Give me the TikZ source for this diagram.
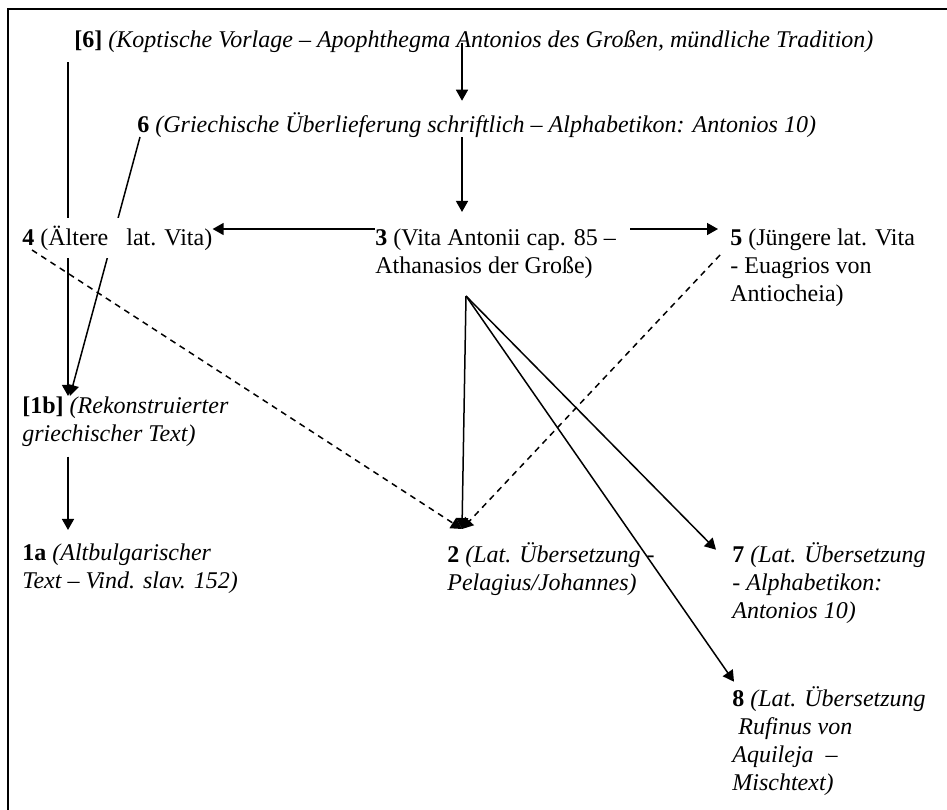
\documentclass[tikz,border=0pt]{standalone}
\usepackage{fontspec}
\setmainfont{Liberation Serif}
\usetikzlibrary{arrows.meta}

\pgfdeclarelayer{grund}
\pgfdeclarelayer{hinten}
\pgfsetlayers{grund,hinten,main}

\tikzset{
  zeuge/.style={anchor=base west,inner sep=0pt,align=left,
    font=\fontsize{12}{14}\selectfont},
  pfeil/.style={line width=0.75pt,-{Triangle[length=5.5pt,width=6pt]}},
  strich/.style={pfeil,dash pattern=on 3pt off 2.5pt}
}

\begin{document}
\begin{tikzpicture}[x=0.5pt,y=-0.5pt]
   \useasboundingbox (0,0) rectangle (947,809);
   \begin{pgfonlayer}{grund}
     \fill[white] (0,0) rectangle (947,809);
     \clip (0,0) rectangle (947,809);
     \draw[line width=0.8pt] (8,9) rectangle (990,850);
   \end{pgfonlayer}

   % Zeugen (base = letzte Zeile)
   \node[zeuge] (z6k) at (74,47) {\textbf{[6]} \textit{(Koptische Vorlage – Apophthegma Antonios des Großen, mündliche Tradition)}};
   \node[zeuge] (z6) at (137,132) {\textbf{6} \textit{(Griechische Überlieferung schriftlich – Alphabetikon: Antonios 10)}};
   \node[zeuge,fill=white,inner ysep=4pt] (z4) at (22,245) {\textbf{4} (Ältere\ \ \ lat. Vita)};
   \node[zeuge] (z3) at (375,273) {\textbf{3} (Vita Antonii cap. 85 –\\Athanasios der Große)};
   \node[zeuge] (z5) at (730,301) {\textbf{5} (Jüngere lat. Vita\\- Euagrios von\\Antiocheia)};
   \node[zeuge] (z1b) at (22,441) {\textbf{[1b]} \textit{(Rekonstruierter}\\\textit{griechischer Text)}};
   \node[zeuge] (z1a) at (22,588) {\textbf{1a} \textit{(Altbulgarischer}\\\textit{Text – Vind. slav. 152)}};
   \node[zeuge] (z2) at (447,590) {\textbf{2} \textit{(Lat. Übersetzung -}\\\textit{Pelagius/Johannes)}};
   \node[zeuge] (z7) at (732,618) {\textbf{7} \textit{(Lat. Übersetzung}\\\textit{- Alphabetikon:}\\\textit{Antonios 10)}};
   \node[zeuge] (z8) at (732,790) {\textbf{8} \textit{(Lat. Übersetzung}\\\textit{\ Rufinus von}\\\textit{Aquileja\ \ –}\\\textit{Mischtext)}};

   \coordinate (k3) at (466,296);
   \coordinate (k2) at (462,529);
   \coordinate (k6) at ([xshift=-3pt,yshift=-7.5pt]z6k.base west);

   % hinter 4
   \begin{pgfonlayer}{hinten}
     \draw[pfeil] (k6) -- (z1b.north -| k6);
     \draw[pfeil] ([xshift=1.5pt,yshift=-2.5pt]z6.base west) -- ([xshift=1pt]z1b.north -| k6);
   \end{pgfonlayer}

   \draw[pfeil] ([yshift=2pt]z6k.base -| k2) -- ([yshift=5.5pt]z6.north -| k2);
   \draw[pfeil] ([yshift=-2.5pt]z6.base -| k2) -- ([yshift=8pt]z3.north -| k2);
   \draw[pfeil] ([yshift=22pt]z3.base west) -- ([yshift=22pt]z3.base west -| z4.east);
   \draw[pfeil,shorten <=7pt,shorten >=6pt] ([yshift=22pt]z3.base west -| z3.east) -- ([yshift=22pt]z3.base west -| z5.west);
   \draw[pfeil,shorten <=5pt,shorten >=6.5pt] (z1b.south -| k6) -- (z1a.north -| k6);

   \draw[pfeil] (k3) -- (k2);
   \draw[pfeil] (k3) -- ([xshift=-8pt,yshift=-4pt]z7.north west);
   \draw[pfeil] (k3) -- ([xshift=1pt,yshift=2pt]z8.north west);
   \draw[strich] ([xshift=5pt,yshift=-2.5pt]z4.base west) -- (k2);
   \draw[strich] ([xshift=-5pt,yshift=23pt]z5.base west) -- (k2);

\end{tikzpicture}
\end{document}
